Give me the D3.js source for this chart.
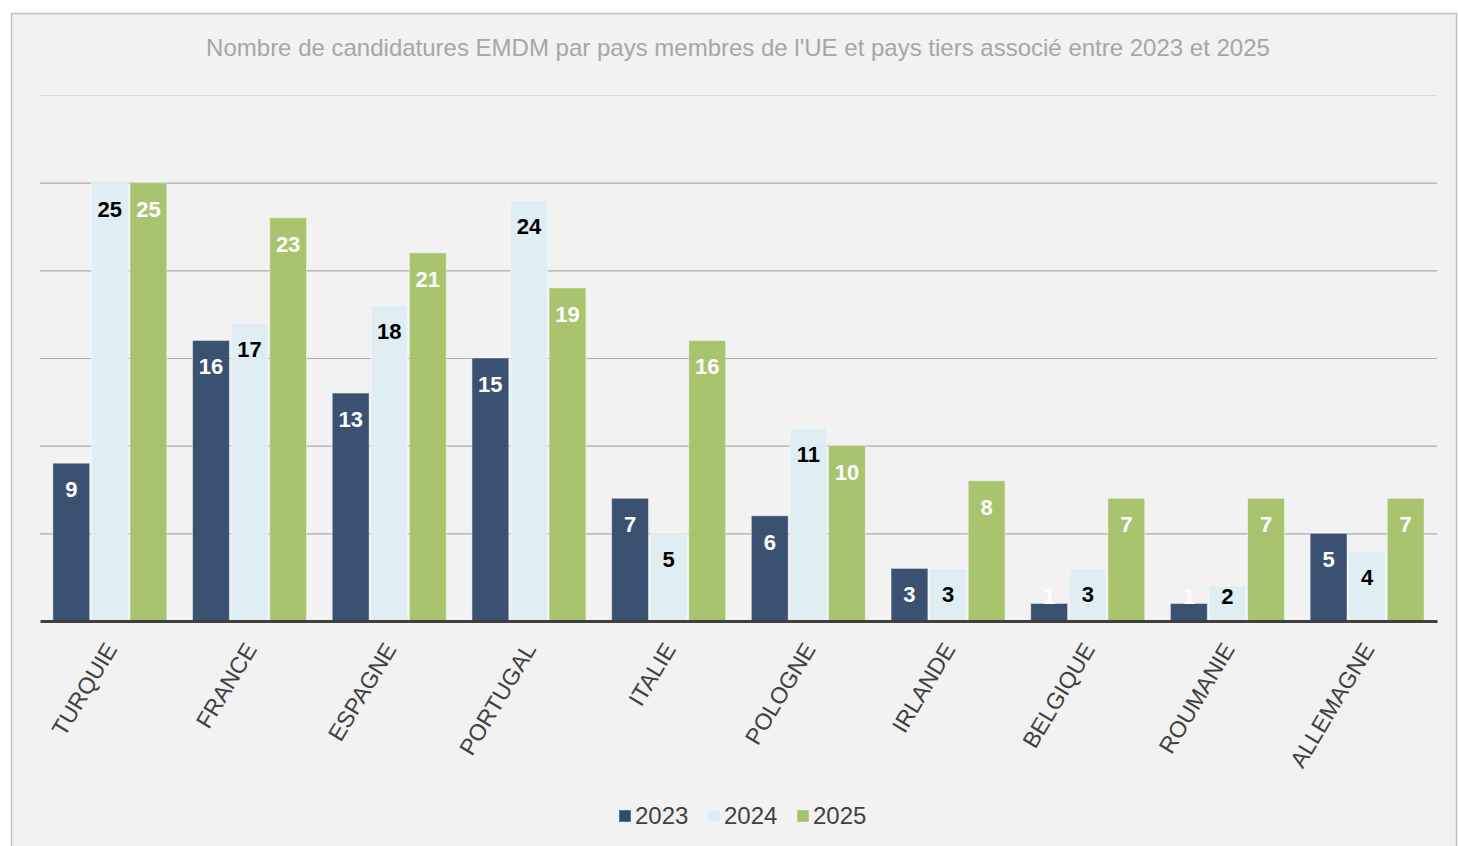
<!DOCTYPE html>
<html>
<head>
<meta charset="utf-8">
<script src="https://cdn.jsdelivr.net/npm/d3@7"></script>
<style>
  html, body { margin: 0; padding: 0; background: #ffffff; }
  svg { display: block; font-family: "Liberation Sans", Arial, sans-serif; }
</style>
</head>
<body>
<svg id="chart" width="1458" height="846"></svg>
<script>
// data
var countries = ["TURQUIE", "FRANCE", "ESPAGNE", "PORTUGAL", "ITALIE", "POLOGNE", "IRLANDE", "BELGIQUE", "ROUMANIE", "ALLEMAGNE"];
var years = ["2023", "2024", "2025"];
var values2023 = [9, 16, 13, 15, 7, 6, 3, 1, 1, 5];
var values2024 = [25, 17, 18, 24, 5, 11, 3, 3, 2, 4];
var values2025 = [25, 23, 21, 19, 16, 10, 8, 7, 7, 7];
var yTicks = [0, 5, 10, 15, 20, 25, 30];

var colors = { "2023": "#344b6c", "2024": "#ddedf3", "2025": "#a6c26a" };
var labelColors = { "2023": "#ffffff", "2024": "#000000", "2025": "#ffffff" };

var seriesByYear = { "2023": values2023, "2024": values2024, "2025": values2025 };
var rows = countries.map(function (c, i) {
  return { country: c, vals: years.map(function (y) { return { year: y, value: seriesByYear[y][i] }; }) };
});

var svg = d3.select("#chart");
var plotLeft = 40, plotRight = 1437, plotTop = 95, plotBottom = 621;

// background + frame
svg.append("rect").attr("width", 1458).attr("height", 846).attr("fill", "#ffffff");
svg.append("rect")
  .attr("x", 11.5).attr("y", 13.5).attr("width", 1445).attr("height", 845)
  .attr("fill", "#f2f2f2").attr("stroke", "#bfbfbf").attr("stroke-width", 1.5);

// title
svg.append("text")
  .attr("x", 738).attr("y", 56)
  .attr("text-anchor", "middle")
  .attr("font-size", 24)
  .attr("fill", "#a6a6a6")
  .text("Nombre de candidatures EMDM par pays membres de l'UE et pays tiers associé entre 2023 et 2025");

var x0 = d3.scaleBand().domain(countries).range([plotLeft, plotRight]).paddingInner(0).paddingOuter(0);
var groupW = 114;
var x1 = d3.scaleBand().domain(years).range([0, groupW]).paddingInner(0.045);
var y = d3.scaleLinear().domain([0, 30]).range([plotBottom, plotTop]);

// gridlines
var grid = svg.append("g")
  .attr("transform", "translate(" + plotLeft + ",0)")
  .call(d3.axisLeft(y).tickValues(yTicks.slice(1)).tickSize(-(plotRight - plotLeft)).tickFormat(""));
grid.select(".domain").remove();
grid.selectAll(".tick line").attr("stroke", "#ababab").attr("stroke-width", 1.1);
grid.selectAll(".tick").filter(function (d) { return d === 30; }).select("line").attr("stroke", "#d9d9d9");

// bars
var groups = svg.selectAll("g.group")
  .data(rows)
  .enter().append("g")
  .attr("class", "group")
  .attr("transform", function (d) {
    return "translate(" + (x0(d.country) + (x0.bandwidth() - groupW) / 2) + ",0)";
  });

groups.selectAll("rect")
  .data(function (d) { return d.vals; })
  .enter().append("rect")
  .attr("x", function (d) { return x1(d.year); })
  .attr("width", x1.bandwidth())
  .attr("y", function (d) { return y(d.value); })
  .attr("height", function (d) { return plotBottom - y(d.value); })
  .attr("fill", function (d) { return colors[d.year]; })
  .attr("fill-opacity", 0.97)
  .attr("stroke", "rgba(255,255,255,0.45)")
  .attr("stroke-width", 1);

groups.selectAll("text")
  .data(function (d) { return d.vals; })
  .enter().append("text")
  .attr("x", function (d) { return x1(d.year) + x1.bandwidth() / 2; })
  .attr("y", function (d) { return Math.min(y(d.value) + 34, plotBottom - 17.5); })
  .attr("text-anchor", "middle")
  .attr("font-size", 22)
  .attr("font-weight", "bold")
  .attr("fill", function (d) { return labelColors[d.year]; })
  .text(function (d) { return d.value; });

// baseline + category labels
var xAxis = svg.append("g")
  .attr("transform", "translate(0," + plotBottom + ")")
  .call(d3.axisBottom(x0).tickSize(0).tickSizeOuter(0));
xAxis.select(".domain").attr("stroke", "#404040").attr("stroke-width", 3);
xAxis.selectAll(".tick text")
  .attr("font-size", 23)
  .attr("font-family", "'Liberation Sans', Arial, sans-serif")
  .attr("fill", "#404040")
  .attr("text-anchor", "end")
  .attr("dy", null)
  .attr("y", 0)
  .attr("transform", "translate(8,28) rotate(-59)");

// legend
var legendX = [619, 708, 797];
var legend = svg.selectAll("g.legend")
  .data(years)
  .enter().append("g")
  .attr("class", "legend")
  .attr("transform", function (d, i) { return "translate(" + legendX[i] + ",810)"; });
legend.append("rect")
  .attr("width", 12).attr("height", 12)
  .attr("fill", function (d) { return colors[d]; })
  .attr("stroke", "rgba(255,255,255,0.4)");
legend.append("text")
  .attr("x", 16).attr("y", 14)
  .attr("font-size", 24)
  .attr("fill", "#404040")
  .text(function (d) { return d; });
</script>
</body>
</html>
